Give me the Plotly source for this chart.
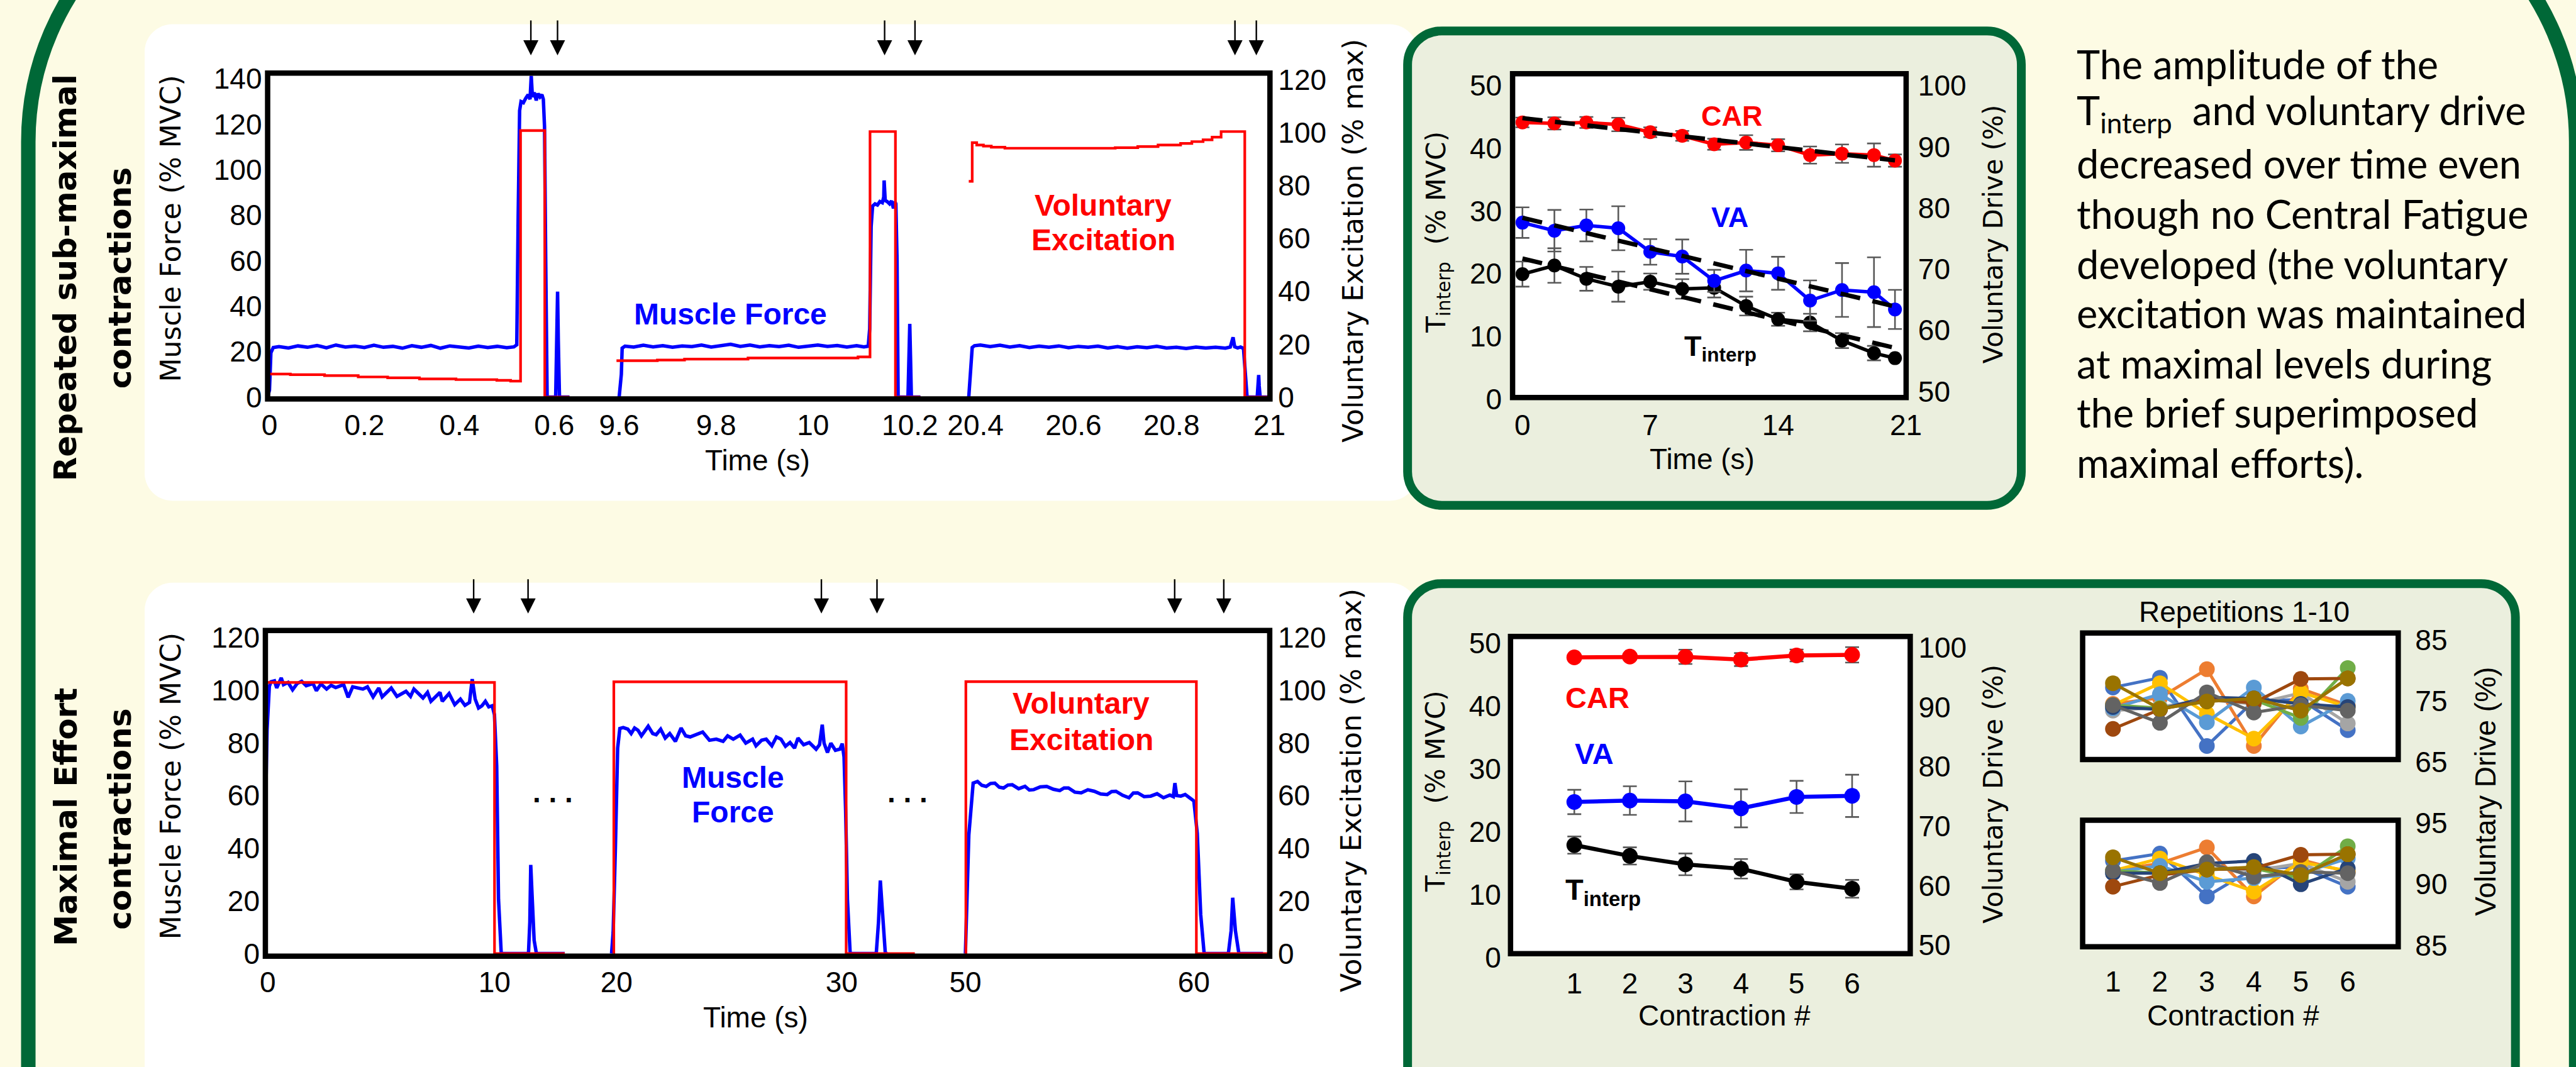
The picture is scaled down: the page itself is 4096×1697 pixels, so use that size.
import plotly.graph_objects as go

W, H = 4096, 1697


def px(x):
    return x / W


def py(y):
    return 1 - y / H


# ======================= DATA =======================
# --- Top-left: repeated sub-maximal contractions (time s, value) ---
# Muscle force (% MVC), three time windows
force_sub_a = [(-0.004, 0.0), (0.0, 3.0), (0.003, 19.5), (0.008, 21.8),
               (0.02, 22.2), (0.04, 21.6), (0.06, 22.5), (0.08, 21.9), (0.10, 22.7), (0.12, 21.7),
               (0.14, 22.9), (0.16, 22.0), (0.18, 22.4), (0.20, 21.8), (0.22, 22.8), (0.24, 21.9),
               (0.26, 22.3), (0.28, 21.5), (0.30, 22.6), (0.32, 21.9), (0.34, 22.7), (0.36, 21.5),
               (0.38, 22.5), (0.40, 22.0), (0.42, 21.6), (0.44, 22.4), (0.46, 21.8), (0.48, 22.3),
               (0.50, 21.7), (0.515, 22.1), (0.521, 23.0), (0.524, 80.0), (0.527, 126.0), (0.530, 130.0),
               (0.535, 129.5), (0.540, 131.5), (0.545, 133.0), (0.549, 131.0), (0.5515, 141.3),
               (0.554, 132.0), (0.558, 134.0), (0.562, 130.5), (0.566, 133.5), (0.570, 132.0),
               (0.574, 133.0), (0.577, 131.0), (0.5795, 119.0), (0.582, 60.0), (0.585, 0.0),
               (0.603, 0.0), (0.6055, 25.0), (0.607, 46.4), (0.6085, 25.0), (0.611, 0.0), (0.632, 0.0)]
force_sub_b = [(9.600, 0.0), (9.6045, 10.0), (9.6062, 21.5), (9.612, 22.4),
               (9.63, 22.0), (9.65, 22.8), (9.67, 22.1), (9.69, 22.6), (9.71, 21.9), (9.73, 22.5),
               (9.75, 22.2), (9.77, 22.9), (9.79, 22.0), (9.81, 22.7), (9.83, 23.2), (9.85, 22.3),
               (9.87, 22.9), (9.89, 22.1), (9.91, 22.6), (9.93, 22.2), (9.95, 22.8), (9.97, 21.9),
               (9.99, 22.5), (10.01, 22.9), (10.03, 22.3), (10.05, 22.7), (10.07, 22.0), (10.09, 22.6),
               (10.105, 22.1), (10.114, 22.4), (10.117, 30.0), (10.120, 75.0), (10.123, 84.0),
               (10.128, 85.0), (10.133, 84.5), (10.138, 86.0), (10.143, 85.5), (10.146, 88.0),
               (10.1468, 95.3), (10.149, 86.5), (10.153, 86.0), (10.158, 85.0), (10.162, 86.3),
               (10.166, 83.0), (10.169, 86.0), (10.171, 85.0), (10.1735, 60.0), (10.1757, 0.0),
               (10.196, 0.0), (10.198, 18.0), (10.1997, 32.2), (10.2012, 18.0), (10.203, 0.0),
               (10.2216, 0.0)]
force_sub_c = [(20.3863, 0.0), (20.390, 12.0), (20.3933, 21.8), (20.398, 22.6),
               (20.41, 22.9), (20.43, 22.2), (20.45, 22.8), (20.47, 22.0), (20.49, 22.6), (20.51, 21.8),
               (20.53, 22.4), (20.55, 21.9), (20.57, 22.5), (20.59, 21.7), (20.61, 22.3), (20.63, 21.9),
               (20.65, 22.4), (20.67, 21.6), (20.69, 22.2), (20.71, 21.5), (20.73, 22.1), (20.75, 21.7),
               (20.77, 22.3), (20.79, 21.6), (20.81, 21.9), (20.83, 21.4), (20.85, 22.0), (20.87, 21.6),
               (20.89, 21.9), (20.91, 21.5), (20.92, 22.0), (20.9257, 26.3), (20.929, 22.1),
               (20.935, 21.6), (20.941, 22.0), (20.947, 21.4), (20.950, 12.0), (20.9543, 0.0),
               (20.975, 0.0), (20.977, 5.0), (20.978, 9.7), (20.979, 5.0), (20.981, 0.0), (21.0, 0.0)]
# Voluntary excitation (% max), stepped
exc_sub_a = [(0.001, 8.71), (0.044, 8.47), (0.116, 8.12), (0.187, 7.62), (0.249, 7.28),
             (0.316, 6.86), (0.393, 6.61), (0.479, 6.35), (0.508, 6.02), (0.529, 100.8),
             (0.580, 0.0), (0.632, 0.0)]
exc_sub_b = [(9.5945, 13.76), (9.6788, 14.00), (9.7349, 14.35), (9.8659, 14.77), (10.0929, 15.18),
             (10.1177, 100.4), (10.1701, 0.0), (10.2216, 0.0)]
exc_sub_c = [(20.3863, 81.6), (20.3933, 96.2), (20.4025, 95.3), (20.4162, 94.9), (20.4323, 94.5),
             (20.46, 94.1), (20.6852, 94.3), (20.7312, 94.7), (20.7726, 95.3), (20.8186, 95.9),
             (20.8416, 96.6), (20.8645, 97.3), (20.8829, 98.3), (20.9013, 100.4), (20.9496, 0.0),
             (21.0, 0.0)]
stim_sub = [0.5507, 0.6069, 10.1478, 10.2105, 20.9296, 20.9732]

# --- Bottom-left: maximal effort contractions ---
force_max_a = [(-0.26, 0.0), (-0.2, 8.0), (-0.12, 45.0), (-0.03, 85.0), (0.07, 101.5),
               (0.145, 103.25), (0.295, 103.59), (0.395, 100.88), (0.595, 104.69), (0.695, 102.15),
               (0.895, 102.99), (1.095, 100.20), (1.295, 102.57), (1.495, 103.42), (1.695, 101.72),
               (1.995, 102.57), (2.145, 99.86), (2.345, 102.40), (2.595, 100.46), (2.795, 101.89),
               (2.995, 101.05), (3.345, 102.15), (3.545, 97.33), (3.745, 101.30), (4.195, 100.46),
               (4.395, 101.30), (4.645, 97.50), (4.896, 100.88), (5.046, 97.50), (5.296, 99.61),
               (5.446, 100.88), (5.696, 97.67), (6.096, 99.61), (6.296, 97.67), (6.446, 100.46),
               (6.846, 97.08), (7.046, 99.19), (7.196, 95.81), (7.596, 99.19), (7.696, 95.81),
               (7.996, 98.77), (8.246, 94.54), (8.497, 96.65), (8.697, 94.29), (8.897, 95.38),
               (9.017, 104.26), (9.147, 96.65), (9.297, 93.27), (9.447, 94.12), (9.597, 95.81),
               (9.747, 93.69), (9.897, 94.12), (9.997, 90.73), (10.097, 71.29), (10.177, 20.56),
               (10.297, 0.0), (11.498, 0.0), (11.558, 12.0), (11.598, 33.66), (11.658, 22.0),
               (11.748, 5.0), (11.848, 0.0), (13.097, 0.0)]
force_max_b = [(19.78, 0.0), (19.85, 8.0), (19.95, 40.0), (20.05, 78.0), (20.147, 85.49),
               (20.298, 85.83), (20.500, 85.24), (20.651, 83.55), (20.802, 85.66), (20.953, 84.82),
               (21.105, 82.70), (21.256, 84.39), (21.407, 86.34), (21.609, 83.55), (21.760, 83.12),
               (21.961, 85.24), (22.163, 81.86), (22.364, 83.55), (22.616, 80.59), (22.869, 85.66),
               (23.070, 82.70), (23.272, 82.28), (23.524, 83.12), (23.826, 84.13), (24.128, 81.01),
               (24.431, 81.43), (24.733, 80.59), (24.935, 82.70), (25.187, 81.43), (25.489, 82.95),
               (25.741, 79.91), (26.044, 81.43), (26.195, 78.90), (26.447, 81.01), (26.648, 81.43),
               (26.900, 78.90), (27.102, 82.28), (27.304, 81.43), (27.505, 78.73), (27.707, 80.16),
               (27.908, 78.05), (28.060, 81.86), (28.312, 79.32), (28.563, 80.16), (28.866, 77.63),
               (29.017, 79.32), (29.138, 86.93), (29.219, 79.91), (29.370, 76.36), (29.521, 79.91),
               (29.723, 77.21), (29.924, 77.63), (30.025, 79.74), (30.106, 74.67), (30.176, 54.38),
               (30.257, 20.56), (30.378, 0.0), (31.537, 0.0), (31.638, 12.10), (31.718, 27.74),
               (31.809, 16.33), (31.940, 0.0), (32.041, 0.0)]
force_max_c = [(50.0, 0.0), (50.15, 45.0), (50.34, 64.73), (50.53, 65.34), (50.72, 63.9),
               (50.91, 63.49), (51.10, 64.6), (51.29, 64.73), (51.48, 63.2), (51.67, 62.88),
               (51.86, 64.0), (52.05, 64.12), (52.33, 62.6), (52.61, 63.49), (52.80, 62.1),
               (52.99, 62.25), (53.28, 63.3), (53.56, 63.49), (53.85, 62.4), (54.13, 61.89),
               (54.32, 62.9), (54.51, 62.88), (54.79, 61.3), (55.07, 61.03), (55.36, 62.2),
               (55.64, 61.64), (55.92, 60.6), (56.21, 60.40), (56.40, 61.5), (56.59, 61.64),
               (56.88, 60.1), (57.16, 59.18), (57.35, 61.0), (57.54, 61.03), (57.82, 59.6),
               (58.11, 59.79), (58.39, 60.7), (58.67, 59.18), (58.95, 60.2), (59.10, 59.6),
               (59.17, 64.73), (59.25, 60.0), (59.43, 59.79), (59.62, 60.4), (59.81, 59.18),
               (60.00, 57.95), (60.15, 45.61), (60.30, 14.77), (60.45, 0.0), (61.51, 0.0),
               (61.63, 8.60), (61.70, 21.18), (61.82, 8.60), (61.97, 0.0), (63.03, 0.0)]
exc_max_a = [(-0.2, 103.0), (10.0, 0.0), (13.1, 0.0)]
exc_max_b = [(19.87, 0.0), (19.88, 103.2), (30.2, 0.0), (33.25, 0.0)]
exc_max_c = [(50.0, 0.0), (50.02, 103.3), (60.11, 0.0), (63.32, 0.0)]
stim_max = [9.08, 11.48, 29.10, 31.57, 59.16, 61.31]

# --- Top-right: summary over time (repeated sub-maximal) ---
sum_time = [0, 1.75, 3.5, 5.25, 7, 8.75, 10.5, 12.25, 14, 15.75, 17.5, 19.25, 20.4]
car_sub = [93.99, 93.84, 93.99, 93.66, 92.39, 91.80, 90.43, 90.71, 90.26, 88.66, 88.89, 88.66, 87.76]
car_sub_err = [0.8, 1.0, 0.9, 1.1, 0.8, 0.8, 0.9, 1.2, 1.0, 1.4, 1.5, 1.9, 1.0]
va_sub = [77.61, 76.29, 77.15, 76.70, 72.83, 72.06, 68.10, 69.78, 69.33, 64.87, 66.60, 66.24, 63.42]
va_sub_err = [2.5, 3.4, 2.6, 3.6, 2.1, 2.8, 1.8, 3.4, 2.7, 3.3, 4.4, 5.7, 3.2]
tint_sub = [19.92, 21.29, 19.17, 17.92, 18.72, 17.56, 17.74, 14.82, 12.73, 12.20, 9.32, 7.32, 6.52]
tint_sub_err = [2.0, 2.75, 1.9, 2.4, 1.3, 1.55, 1.55, 1.5, 1.05, 1.4, 1.2, 1.15, 0.0]
trend_time = [0, 20.4]
car_trend = [94.7, 87.8]
va_trend = [78.4, 63.9]
tint_trend = [22.4, 8.15]

# --- Bottom-right: summary per contraction (maximal effort) ---
contraction = [1, 2, 3, 4, 5, 6]
car_max = [98.37, 98.50, 98.46, 98.00, 98.69, 98.79]
car_max_err = [0.4, 0.5, 1.2, 1.1, 1.0, 1.3]
va_max = [74.07, 74.31, 74.17, 73.00, 74.92, 75.10]
va_max_err = [2.05, 2.4, 3.36, 3.2, 2.7, 3.55]
tint_max = [17.92, 16.19, 14.86, 14.15, 12.08, 10.97]
tint_max_err = [1.37, 1.37, 1.73, 1.55, 1.2, 1.42]

# --- Repetitions 1-10 ---
rep_colors = ['#4472C4', '#ED7D31', '#A5A5A5', '#FFC000', '#5B9BD5',
              '#70AD47', '#264478', '#9E480E', '#636363', '#997300']
rep_va = [[77.2, 78.8, 67.6, 75.0, 75.2, 70.2],
          [74.5, 75.5, 80.2, 67.6, 77.0, 74.3],
          [73.4, 74.0, 75.2, 74.5, 76.3, 71.3],
          [74.3, 77.9, 72.9, 68.8, 76.4, 74.0],
          [73.8, 76.1, 71.5, 77.2, 70.8, 75.0],
          [74.3, 73.8, 75.0, 75.2, 72.2, 80.4],
          [74.0, 73.6, 75.6, 75.4, 74.5, 74.0],
          [70.4, 73.6, 75.2, 74.7, 78.6, 78.7],
          [74.3, 71.4, 76.4, 73.1, 74.3, 73.4],
          [77.9, 73.7, 74.9, 75.4, 73.4, 78.7]]
rep_car = [[91.9, 92.5, 89.0, 91.3, 91.4, 89.8],
           [91.1, 91.7, 93.0, 89.0, 92.0, 91.0],
           [90.9, 91.0, 91.3, 91.1, 91.7, 90.2],
           [91.1, 92.1, 90.75, 89.4, 91.8, 91.1],
           [91.0, 91.5, 90.2, 90.5, 90.9, 92.1],
           [91.1, 90.9, 91.2, 91.3, 90.5, 93.1],
           [90.9, 90.9, 91.7, 91.9, 90.0, 91.3],
           [89.8, 90.75, 91.2, 91.3, 92.4, 92.45],
           [91.1, 90.1, 91.8, 90.6, 91.0, 90.9],
           [92.2, 90.9, 91.2, 91.4, 90.75, 92.45]]

para_lines = ["The amplitude of the",
              "T<sub>interp</sub>\u00a0 and voluntary drive",
              "decreased over time even",
              "though no Central Fatigue",
              "developed (the voluntary",
              "excitation was maintained",
              "at maximal levels during",
              "the brief superimposed",
              "maximal efforts)."]

# ======================= STYLE =======================
ARIAL = "Liberation Sans, Arial, Helvetica, sans-serif"
WIDE = "DejaVu Sans, Verdana, sans-serif"
CALIBRI = "Lato, Carlito, Calibri, sans-serif"
GREEN = "#006837"
CREAM = "#FDFBE4"
PANEL = "#EBEFDE"
BLUE = "#0000FF"
RED = "#FF0000"
ERRC = "#595959"
TICKFONT = dict(family=ARIAL, size=46, color="black")

fig = go.Figure()


def add_pairs(pairs, xa, ya, color, width, shape="linear"):
    fig.add_trace(go.Scatter(x=[p[0] for p in pairs], y=[p[1] for p in pairs], xaxis=xa, yaxis=ya,
                             mode="lines", line=dict(color=color, width=width, shape=shape),
                             showlegend=False, hoverinfo="skip"))


# Top-left traces
for seg, xa in ((exc_sub_a, "x"), (exc_sub_b, "x2"), (exc_sub_c, "x3")):
    add_pairs(seg, xa, "y2", RED, 4.2, "hv")
for seg, xa in ((force_sub_a, "x"), (force_sub_b, "x2"), (force_sub_c, "x3")):
    add_pairs(seg, xa, "y", BLUE, 5.5)

# Bottom-left traces
for seg, xa in ((exc_max_a, "x5"), (exc_max_b, "x6"), (exc_max_c, "x7")):
    add_pairs(seg, xa, "y7", RED, 4.2, "hv")
for seg, xa in ((force_max_a, "x5"), (force_max_b, "x6"), (force_max_c, "x7")):
    add_pairs(seg, xa, "y6", BLUE, 5.5)


def add_series(x, y, err, xa, ya, color, lw, ms):
    fig.add_trace(go.Scatter(x=x, y=y, xaxis=xa, yaxis=ya, mode="lines+markers",
                             line=dict(color=color, width=lw),
                             marker=dict(color=color, size=ms),
                             error_y=dict(type="data", array=err, color=ERRC, thickness=2.6, width=11),
                             showlegend=False, hoverinfo="skip"))


# Top-right traces
add_series(sum_time, car_sub, car_sub_err, "x4", "y5", RED, 5.5, 22)
add_series(sum_time, va_sub, va_sub_err, "x4", "y5", BLUE, 5.5, 22)
add_series(sum_time, tint_sub, tint_sub_err, "x4", "y4", "black", 5.5, 22)
for tr, ya in ((car_trend, "y5"), (va_trend, "y5"), (tint_trend, "y4")):
    fig.add_trace(go.Scatter(x=trend_time, y=tr, xaxis="x4", yaxis=ya, mode="lines",
                             line=dict(color="black", width=7, dash="32px,20px"),
                             showlegend=False, hoverinfo="skip"))

# Bottom-right traces
add_series(contraction, car_max, car_max_err, "x8", "y9", RED, 6.5, 25)
add_series(contraction, va_max, va_max_err, "x8", "y9", BLUE, 6.5, 25)
add_series(contraction, tint_max, tint_max_err, "x8", "y8", "black", 6.5, 25)

# Repetitions
for vals, col in zip(rep_va, rep_colors):
    fig.add_trace(go.Scatter(x=contraction, y=vals, xaxis="x9", yaxis="y10", mode="lines+markers",
                             line=dict(color=col, width=5), marker=dict(color=col, size=25),
                             showlegend=False, hoverinfo="skip"))
for vals, col in zip(rep_car, rep_colors):
    fig.add_trace(go.Scatter(x=contraction, y=vals, xaxis="x10", yaxis="y11", mode="lines+markers",
                             line=dict(color=col, width=5), marker=dict(color=col, size=25),
                             showlegend=False, hoverinfo="skip"))


# ======================= AXES =======================
def axis(**kw):
    d = dict(showgrid=False, zeroline=False, showline=False, ticks="", tickfont=TICKFONT,
             fixedrange=True, tickmode="array")
    d.update(kw)
    return d


XS = 10  # x tick standoff
YL = 8   # left y tick standoff
YR = 12  # right y tick standoff

layout_axes = dict(
    # top-left
    xaxis=axis(domain=[px(416.4), px(961.3)], range=[-0.0039, 0.7114], anchor="y",
               tickvals=[0, 0.2, 0.4, 0.6], ticktext=["0", "0.2", "0.4", "0.6"], ticklabelstandoff=XS),
    xaxis2=axis(domain=[px(961.3), px(1502.0)], range=[9.5752, 10.2704], anchor="y",
                tickvals=[9.6, 9.8, 10, 10.2], ticktext=["9.6", "9.8", "10", "10.2"], ticklabelstandoff=XS),
    xaxis3=axis(domain=[px(1502.0), px(2025.1)], range=[20.3358, 21.001], anchor="y",
                tickvals=[20.4, 20.6, 20.8, 21], ticktext=["20.4", "20.6", "20.8", "21"], ticklabelstandoff=XS),
    yaxis=axis(domain=[py(631.0), py(98.0)], range=[-0.83, 142.5], anchor="x",
               tickvals=[0, 20, 40, 60, 80, 100, 120, 140], ticklabelstandoff=YL),
    yaxis2=axis(overlaying="y", side="right", anchor="x3", range=[-0.71, 122.5],
                tickvals=[0, 20, 40, 60, 80, 100, 120], ticklabelstandoff=YR),
    # top-right
    xaxis4=axis(domain=[px(2414.5), px(3046.1)], range=[-0.54, 21.01], anchor="y4",
                tickvals=[0, 7, 14, 21], ticklabelstandoff=XS),
    yaxis4=axis(domain=[py(631.1), py(99.1)], range=[0, 51.87], anchor="x4",
                tickvals=[0, 10, 20, 30, 40, 50], ticklabelstandoff=YL + 8),
    yaxis5=axis(overlaying="y4", side="right", anchor="x4", range=[48.77, 101.95],
                tickvals=[50, 60, 70, 80, 90, 100], ticklabelstandoff=YR + 6),
    # bottom-left
    xaxis5=axis(domain=[px(412.8), px(931.2)], range=[-0.105, 14.14], anchor="y6",
                tickvals=[0, 10], ticklabelstandoff=XS),
    xaxis6=axis(domain=[px(931.2), px(1494.5)], range=[18.75, 34.34], anchor="y6",
                tickvals=[20, 30], ticklabelstandoff=XS),
    xaxis7=axis(domain=[px(1494.5), px(2024.7)], range=[48.86, 63.32], anchor="y6",
                tickvals=[50, 60], ticklabelstandoff=XS),
    yaxis6=axis(domain=[py(1542.4), py(1009.8)], range=[-1.0, 122.7], anchor="x5",
                tickvals=[0, 20, 40, 60, 80, 100, 120], ticklabelstandoff=YL),
    yaxis7=axis(overlaying="y6", side="right", anchor="x7", range=[-1.0, 122.7],
                tickvals=[0, 20, 40, 60, 80, 100, 120], ticklabelstandoff=YR),
    # bottom-right
    xaxis8=axis(domain=[px(2411.2), px(3052.7)], range=[-0.148, 7.046], anchor="y8",
                tickvals=contraction, ticklabelstandoff=XS),
    yaxis8=axis(domain=[py(1545.0), py(1019.6)], range=[0, 51.1], anchor="x8",
                tickvals=[0, 10, 20, 30, 40, 50], ticklabelstandoff=YL + 6),
    yaxis9=axis(overlaying="y8", side="right", anchor="x8", range=[47.90, 101.87],
                tickvals=[50, 60, 70, 80, 90, 100], ticklabelstandoff=YR),
    # repetitions
    xaxis9=axis(domain=[px(3329.4), px(3835.9)], range=[0.354, 7.075], anchor="y10",
                tickvals=contraction, showticklabels=False),
    yaxis10=axis(domain=[py(1224.5), py(1013.9)], range=[65, 86.14], anchor="x9", side="right",
                 tickvals=[65, 75, 85], ticklabelstandoff=YR + 14),
    xaxis10=axis(domain=[px(3329.4), px(3835.9)], range=[0.354, 7.075], anchor="y11",
                 tickvals=contraction, ticklabelstandoff=XS + 14),
    yaxis11=axis(domain=[py(1527.1), py(1320.0)], range=[84.89, 95.23], anchor="x10", side="right",
                 tickvals=[85, 90, 95], ticklabelstandoff=YR + 14),
)


# ======================= SHAPES =======================
def P(x, y):
    return f"{px(x):.5f},{py(y):.5f}"


def rr_path(x0, y0, x1, y1, r):
    k = 0.5523 * r
    return ("M" + P(x0 + r, y0) + " L" + P(x1 - r, y0) +
            " C" + P(x1 - r + k, y0) + " " + P(x1, y0 + r - k) + " " + P(x1, y0 + r) +
            " L" + P(x1, y1 - r) +
            " C" + P(x1, y1 - r + k) + " " + P(x1 - r + k, y1) + " " + P(x1 - r, y1) +
            " L" + P(x0 + r, y1) +
            " C" + P(x0 + r - k, y1) + " " + P(x0, y1 - r + k) + " " + P(x0, y1 - r) +
            " L" + P(x0, y0 + r) +
            " C" + P(x0, y0 + r - k) + " " + P(x0 + r - k, y0) + " " + P(x0 + r, y0) + " Z")


shapes = []
# white panels
for y0, y1 in ((18, 797.6), (931.6, 1800)):
    shapes.append(dict(type="path", path=rr_path(219, y0, 2262, y1, 45), xref="paper", yref="paper",
                       fillcolor="white", line=dict(width=0), layer="below"))
# green panels
for x1, y0, y1 in ((3231, 29, 805), (4024, 933, 1800)):
    shapes.append(dict(type="path", path=rr_path(2246, y0, x1, y1, 55), xref="paper", yref="paper",
                       fillcolor=PANEL, line=dict(color=GREEN, width=14), layer="below"))
# big outer border
Lx, Rx, top, R = 32.3, 4121.5, -248, 458
k = 0.5523 * R
big = ("M" + P(Lx, 1800) + " L" + P(Lx, top + R) +
       " C" + P(Lx, top + R - k) + " " + P(Lx + R - k, top) + " " + P(Lx + R, top) +
       " L" + P(Rx - R, top) +
       " C" + P(Rx - R + k, top) + " " + P(Rx, top + R - k) + " " + P(Rx, top + R) +
       " L" + P(Rx, 1800))
shapes.append(dict(type="path", path=big, xref="paper", yref="paper",
                   fillcolor="rgba(0,0,0,0)", line=dict(color=GREEN, width=23), layer="below"))

frames = [(416.4, 98.0, 2025.1, 631.0), (2414.5, 99.1, 3046.1, 628.6),
          (412.8, 1009.8, 2024.7, 1542.4), (2411.2, 1019.6, 3052.7, 1538.3),
          (3329.4, 1013.9, 3835.9, 1220.8), (3329.4, 1320.0, 3835.9, 1527.1)]
for (x0, y0, x1, y1) in frames:
    shapes.append(dict(type="rect", xref="paper", yref="paper", x0=px(x0), x1=px(x1), y0=py(y1), y1=py(y0),
                       fillcolor="white", line=dict(width=0), layer="below"))
for (x0, y0, x1, y1) in frames:
    shapes.append(dict(type="rect", xref="paper", yref="paper", x0=px(x0), x1=px(x1), y0=py(y1), y1=py(y0),
                       fillcolor="rgba(0,0,0,0)", line=dict(color="black", width=8.5), layer="above"))

# ======================= ANNOTATIONS =======================
ann = []


def note(text, x, y, size, family=ARIAL, color="black", angle=0, xanchor="center", yanchor="middle"):
    ann.append(dict(text=text, x=px(x), y=py(y), xref="paper", yref="paper", showarrow=False,
                    font=dict(family=family, size=size, color=color), textangle=angle,
                    xanchor=xanchor, yanchor=yanchor))


# side labels
note("<b>Repeated sub-maximal</b>", 92, 433, 50, WIDE, angle=-90)
note("<b>contractions</b>", 180, 433, 50, WIDE, angle=-90)
note("<b>Maximal Effort</b>", 92, 1315, 50, WIDE, angle=-90)
note("<b>contractions</b>", 180, 1318, 50, WIDE, angle=-90)

# top-left
note("Muscle Force (% MVC)", 261, 352.6, 44, WIDE, angle=-90)
note("Voluntary Excitation (% max)", 2159, 372, 44, WIDE, angle=-90)
note("Time (s)", 1202.8, 730.9, 46)
note("<b>Muscle Force</b>", 1159, 492, 48, color=BLUE)
note("<b>Voluntary</b>", 1757.6, 314, 48, color=RED)
note("<b>Excitation</b>", 1757.9, 371, 48, color=RED)

# bottom-left
note("Muscle Force (% MVC)", 261, 1264.6, 44, WIDE, angle=-90)
note("Voluntary Excitation (% max)", 2155, 1271.3, 44, WIDE, angle=-90)
note("Time (s)", 1200, 1642.8, 46)
note("<b>Muscle</b>", 1162.9, 1250, 48, color=BLUE)
note("<b>Force</b>", 1163.5, 1307, 48, color=BLUE)
note("<b>Voluntary</b>", 1722.3, 1129, 48, color=RED)
note("<b>Excitation</b>", 1722.3, 1188, 48, color=RED)
note("<b>. . .</b>", 873.7, 1274, 46)
note("<b>. . .</b>", 1443.8, 1274, 46)

# top-right
note("T<sub>interp</sub>\u00a0 (% MVC)", 2294, 358, 42, WIDE, angle=-90)
note("Voluntary Drive (%)", 3186, 360.8, 42, WIDE, angle=-90)
note("Time (s)", 2719, 729, 46)
note("<b>CAR</b>", 2767, 168, 45, color=RED)
note("<b>VA</b>", 2763, 334, 45, color=BLUE)
note("<b>T<sub>interp</sub></b>", 2748, 548, 45)

# bottom-right
note("T<sub>interp</sub>\u00a0 (% MVC)", 2294, 1272.6, 42, WIDE, angle=-90)
note("Voluntary Drive (%)", 3186, 1276.6, 42, WIDE, angle=-90)
note("Contraction #", 2754.7, 1639.3, 46)
note("<b>CAR</b>", 2550.4, 1120, 47, color=RED)
note("<b>VA</b>", 2545.4, 1211, 47, color=BLUE)
note("<b>T<sub>interp</sub></b>", 2560, 1437, 47)

# repetitions
note("Repetitions 1-10", 3589, 979, 46)
note("Voluntary Drive (%)", 3976, 1273, 46, angle=-90)
note("Contraction #", 3571.5, 1639.5, 46)

# paragraph
para_base = [107.4, 187.3, 269.9, 352.5, 435.1, 515.0, 597.6, 677.5, 760.1]
for txt, b in zip(para_lines, para_base):
    note(txt, 3318, b - 25, 63, CALIBRI, xanchor="left")

# stimulation arrows
for t, xa in zip(stim_sub, ["x", "x", "x2", "x2", "x3", "x3"]):
    ann.append(dict(text="", x=t, y=py(69), xref=xa, yref="paper", showarrow=True, ax=0, ay=-57,
                    arrowhead=2, arrowsize=2, arrowwidth=2.4, arrowcolor="black", standoff=0))
for t, xa in zip(stim_max, ["x5", "x5", "x6", "x6", "x7", "x7"]):
    ann.append(dict(text="", x=t, y=py(982), xref=xa, yref="paper", showarrow=True, ax=0, ay=-56,
                    arrowhead=2, arrowsize=2, arrowwidth=2.4, arrowcolor="black", standoff=0))

fig.update_layout(width=W, height=H, autosize=False, margin=dict(l=0, r=0, t=0, b=0, pad=0),
                  paper_bgcolor=CREAM, plot_bgcolor="rgba(0,0,0,0)", showlegend=False,
                  shapes=shapes, annotations=ann, **layout_axes)

pin_page = ("var d=document.getElementById('{plot_id}');"
            "var de=document.documentElement, b=document.body;"
            "de.style.margin='0';de.style.padding='0';de.style.overflow='hidden';"
            "de.style.width='4096px';de.style.height='1697px';"
            "b.style.margin='0';b.style.padding='0';b.style.overflow='hidden';"
            "b.style.width='4096px';b.style.height='1697px';"
            "d.style.position='fixed';d.style.left='0px';d.style.top='0px';")

fig.write_html("out.html", config={"displayModeBar": False}, post_script=pin_page)
